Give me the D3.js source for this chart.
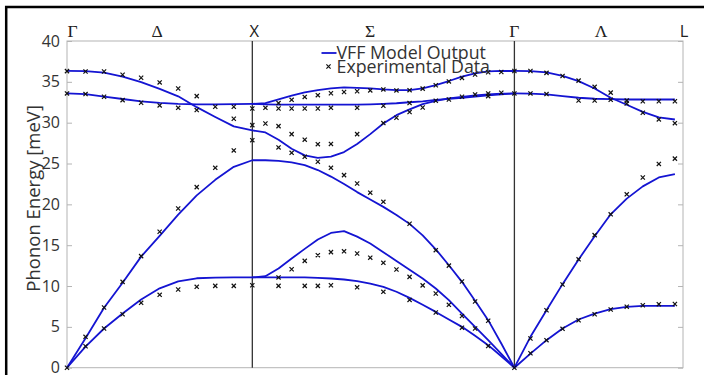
<!DOCTYPE html>
<html><head><meta charset="utf-8">
<script src="https://cdn.jsdelivr.net/npm/d3@7/dist/d3.min.js"></script>
<style>body{margin:0;background:#fff}svg{display:block}</style>
</head><body>
<svg id="c" width="704" height="375"></svg>
<script>
// ---- high-symmetry path (lengths in units of 2π/a) ----
const segmentNames = ["Δ", "Σ", "Λ"];
const segmentLengths = [1, Math.SQRT2, Math.sqrt(3) / 2];
const segmentSteps = [10, 20, 10];
const symLabels = ["Γ", "Δ", "X", "Σ", "Γ", "Λ", "L"];
const symLabelQ = [0.03, 0.486, 1.01, 1.635, 2.414, 2.882, 3.33];
const symGreek = [true, true, false, true, true, true, false];
const yTicks = [0, 5, 10, 15, 20, 25, 30, 35, 40];

// ---- VFF model (meV) ----
const modelDeltaTA = [0, 2.57, 4.8, 6.63, 8.35, 9.72, 10.57, 10.95, 11.03, 11.05, 11.05];
const modelDeltaLA = [0, 3.6, 7.35, 10.4, 13.6, 16.15, 18.75, 21.1, 23.0, 24.6, 25.4];
const modelDeltaTO = [33.58, 33.5, 33.2, 32.9, 32.62, 32.42, 32.3, 32.25, 32.25, 32.27, 32.3];
const modelDeltaLO = [36.33, 36.3, 36.12, 35.64, 34.97, 34.13, 33.23, 31.9, 30.7, 29.55, 29.05];

const modelSigma1 = [32.3, 32.4, 32.85, 33.3, 33.7, 33.99, 34.2, 34.32, 34.27, 34.2, 34.07, 33.99, 33.99, 34.2, 34.6, 35.1, 35.65, 36.05, 36.27, 36.33, 36.33];
const modelSigma2 = [32.3, 32.25, 32.2, 32.2, 32.2, 32.2, 32.2, 32.2, 32.22, 32.25, 32.3, 32.38, 32.5, 32.62, 32.78, 32.92, 33.05, 33.2, 33.35, 33.48, 33.58];
const modelSigma3 = [29.05, 28.8, 27.9, 26.8, 26.0, 25.7, 25.85, 26.4, 27.4, 28.6, 29.9, 30.92, 31.62, 32.27, 32.68, 32.97, 33.17, 33.33, 33.46, 33.54, 33.58];
const modelSigma4 = [25.4, 25.4, 25.33, 25.13, 24.8, 24.2, 23.4, 22.5, 21.5, 20.6, 19.69, 18.7, 17.61, 16.2, 14.5, 12.55, 10.51, 8.19, 5.82, 2.96, 0];
const modelSigma5 = [11.05, 11.2, 12.15, 13.37, 14.55, 15.7, 16.5, 16.72, 16.05, 15.2, 14.15, 13.05, 12.0, 10.92, 9.7, 8.27, 6.63, 5.0, 3.37, 1.7, 0];
const modelSigma6 = [11.05, 11.05, 11.05, 11.05, 11.05, 11.0, 10.92, 10.8, 10.6, 10.3, 9.9, 9.3, 8.55, 7.7, 6.83, 5.9, 5.0, 3.9, 2.76, 1.4, 0];

const modelLambdaTA = [0, 1.73, 3.37, 4.8, 5.9, 6.63, 7.16, 7.45, 7.57, 7.57, 7.57];
const modelLambdaLA = [0, 3.78, 7.04, 10.23, 13.25, 16.1, 18.78, 20.7, 22.2, 23.29, 23.7];
const modelLambdaTO = [33.58, 33.55, 33.46, 33.25, 33.05, 32.93, 32.88, 32.84, 32.84, 32.84, 32.84];
const modelLambdaLO = [36.33, 36.31, 36.15, 35.74, 35.09, 34.19, 33.05, 32.2, 31.33, 30.64, 30.39];

// ---- experimental data (meV) ----
const exptDeltaTA = [0, 2.63, 4.8, 6.55, 7.94, 8.92, 9.57, 9.9, 10.02, 10.02, 10.1];
const exptDeltaLA = [null, 3.78, 7.37, 10.51, 13.66, 16.64, 19.49, 22.11, 24.47, 26.6, 27.86];
const exptDeltaTO = [33.58, 33.5, 33.17, 32.76, 32.44, 32.11, 31.82, 31.54, 31.95, 31.95, 31.74];
const exptDeltaLO = [36.31, 36.27, 36.27, 35.87, 35.5, 34.93, 34.19, 33.25, null, 30.48, 29.7];

const exptSigmaA = [null, null, 32.4, 32.8, 33.15, 33.37, 33.6, 33.76, 33.85, 33.95, 34.07, 33.95, 33.98, 34.17, 34.58, 35.05, 35.48, 35.9, 36.17, 36.2, null];
const exptSigmaB = [null, 31.82, 31.74, 31.74, 31.74, 31.74, 31.82, null, 31.82, null, 32.07, null, 32.4, null, null, null, null, null, 33.58, null, null];
const exptSigmaC = [null, 29.9, 29.58, 28.6, 27.92, 27.37, 27.4, null, 28.6, null, 29.95, 30.6, 31.3, 31.86, 32.68, 32.84, 33.17, 33.46, 33.25, 33.66, null];
const exptSigmaD = [null, null, 26.97, 26.31, 25.82, 25.21, 24.47, 23.58, 22.55, 21.43, 20.31, null, 17.62, null, 14.39, 12.5, 10.55, 8.1, 5.75, null, null];
const exptSigmaE = [null, null, 11.05, 12.06, 13.08, 13.78, 14.15, 14.25, 13.98, 13.47, 12.84, 12.02, 11.12, 10.08, 9.08, 7.7, 6.33, 4.8, null, null, null];
const exptSigmaF = [null, null, 10.02, null, 10.02, 10.02, 10.1, null, 9.84, null, 9.29, null, 8.3, null, 6.76, null, 4.9, null, 2.65, null, null];

const exptLambdaTA = [0, 1.77, 3.37, 4.76, 5.8, 6.55, 7.12, 7.47, 7.65, 7.78, 7.8];
const exptLambdaLA = [null, 3.57, 7.04, 10.19, 13.27, 16.23, 18.78, 21.23, 23.29, 24.95, 25.6];
const exptLambdaTO = [33.58, 33.58, 33.5, null, 32.72, 32.72, 32.8, 32.7, 32.62, 32.62, 32.62];
const exptLambdaLO = [36.33, 36.33, 36.1, 35.72, 35.15, 34.39, 33.68, 32.35, 31.22, 30.4, 29.94];

const modelBySegment = [
  [modelDeltaTA, modelDeltaLA, modelDeltaTO, modelDeltaLO],
  [modelSigma1, modelSigma2, modelSigma3, modelSigma4, modelSigma5, modelSigma6],
  [modelLambdaTA, modelLambdaLA, modelLambdaTO, modelLambdaLO]
];
const exptBySegment = [
  [exptDeltaTA, exptDeltaLA, exptDeltaTO, exptDeltaLO],
  [exptSigmaA, exptSigmaB, exptSigmaC, exptSigmaD, exptSigmaE, exptSigmaF],
  [exptLambdaTA, exptLambdaLA, exptLambdaTO, exptLambdaLO]
];

// ---- layout ----
const svg = d3.select("#c");
const pLeft = 67, pRight = 683, pTop = 41, pBottom = 367.7;
const segStart = segmentLengths.map((l, i) => d3.sum(segmentLengths.slice(0, i)));
const qMax = 3.324;
const x = d3.scaleLinear().domain([0, qMax]).range([pLeft, pRight]);
const y = d3.scaleLinear().domain([0, 40]).range([pBottom, pTop]);

const sans = "'Open Sans', 'DejaVu Sans', sans-serif";
const serif = "'Liberation Serif', 'DejaVu Serif', serif";

svg.append("rect").attr("width", 704).attr("height", 375).attr("fill", "#fff");
// outer frame
svg.append("rect").attr("x", 6.2).attr("y", 7).attr("width", 720).attr("height", 420)
  .attr("fill", "none").attr("stroke", "#000").attr("stroke-width", 2.5);

// axes box
const axisColor = "#b4b4b4";
svg.append("rect").attr("x", pLeft).attr("y", pTop).attr("width", pRight - pLeft).attr("height", pBottom - pTop)
  .attr("fill", "none").attr("stroke", axisColor).attr("stroke-width", 1);

// left & right y axes with inward ticks
const yAxisL = d3.axisLeft(y).tickValues(yTicks).tickSize(-5).tickPadding(7).tickFormat(d3.format("d"));
const gL = svg.append("g").attr("transform", `translate(${pLeft},0)`).call(yAxisL);
gL.select(".domain").remove();
gL.selectAll(".tick line").attr("stroke", axisColor);
gL.selectAll(".tick text").attr("font-family", sans).attr("font-size", 16).attr("fill", "#333");
const yAxisR = d3.axisRight(y).tickValues(yTicks).tickSize(-5).tickFormat("");
const gR = svg.append("g").attr("transform", `translate(${pRight},0)`).call(yAxisR);
gR.select(".domain").remove();
gR.selectAll(".tick line").attr("stroke", axisColor);

// symmetry-point vertical lines
[segStart[1], segStart[2]].forEach(q => {
  svg.append("line").attr("x1", x(q)).attr("x2", x(q)).attr("y1", pTop).attr("y2", pBottom)
    .attr("stroke", "#333").attr("stroke-width", 1.3);
});

// top labels
symLabels.forEach((s, i) => {
  svg.append("text").attr("x", x(symLabelQ[i])).attr("y", 36.8)
    .attr("text-anchor", "middle")
    .attr("font-family", symGreek[i] ? serif : sans)
    .attr("font-size", symGreek[i] ? 17.5 : 16.5)
    .attr("fill", "#222").text(s);
});

// y label
svg.append("text").attr("transform", `translate(40,${(pTop + pBottom) / 2 - 6}) rotate(-90)`)
  .attr("text-anchor", "middle").attr("font-family", sans).attr("font-size", 18.5)
  .attr("fill", "#333").text("Phonon Energy [meV]");

// points along a segment
function pts(seg, vals) {
  return vals.map((v, i) => ({ q: segStart[seg] + segmentLengths[seg] * i / segmentSteps[seg], e: v }));
}

const lineGen = d3.line().defined(d => d.e != null).x(d => x(d.q)).y(d => y(d.e));
const blue = "#1414d2";
const gModel = svg.append("g");
modelBySegment.forEach((branches, s) => {
  branches.forEach(b => {
    gModel.append("path").attr("d", lineGen(pts(s, b))).attr("fill", "none")
      .attr("stroke", blue).attr("stroke-width", 1.8).attr("stroke-linejoin", "round");
  });
});

const m = 2.1;
const cross = `M${-m},${-m}L${m},${m}M${-m},${m}L${m},${-m}`;
const gExp = svg.append("g");
exptBySegment.forEach((branches, s) => {
  branches.forEach(b => {
    pts(s, b).filter(d => d.e != null).forEach(d => {
      gExp.append("path").attr("d", cross).attr("transform", `translate(${x(d.q)},${y(d.e)})`)
        .attr("fill", "none").attr("stroke", "#111").attr("stroke-width", 1.2);
    });
  });
});

// legend
const lg = svg.append("g");
lg.append("line").attr("x1", 321.5).attr("x2", 336.5).attr("y1", 53).attr("y2", 53)
  .attr("stroke", blue).attr("stroke-width", 1.8);
lg.append("text").attr("x", 336.5).attr("y", 58.5).attr("font-family", sans).attr("font-size", 17.8)
  .attr("fill", "#333").text("VFF Model Output");
lg.append("path").attr("d", cross).attr("transform", "translate(328.5,66.5)")
  .attr("fill", "none").attr("stroke", "#111").attr("stroke-width", 1.2);
lg.append("text").attr("x", 336.5).attr("y", 72.8).attr("font-family", sans).attr("font-size", 17.8)
  .attr("fill", "#333").text("Experimental Data");
</script>
</body></html>
